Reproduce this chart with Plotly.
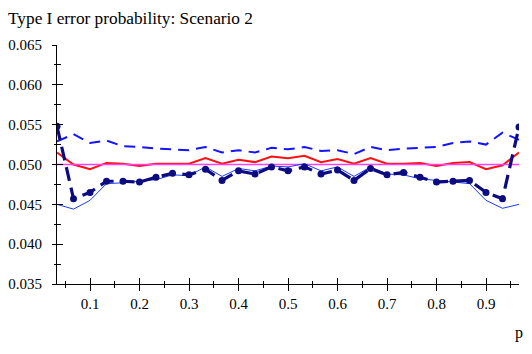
import plotly.graph_objects as go

# ── data ──────────────────────────────────────────────────────
p = [k / 30 for k in range(1, 30)]

# upper dashed blue
upper_dash = [0.0529, 0.0538, 0.0527, 0.0530, 0.0523, 0.0522, 0.0520, 0.0519, 0.0518,
              0.0522, 0.0515, 0.0518, 0.0515, 0.0521, 0.0519, 0.0522, 0.0517, 0.0518,
              0.0513, 0.0522, 0.0518, 0.0520, 0.0521, 0.0522, 0.0527, 0.0529, 0.0525,
              0.0540, 0.0531]

# red solid
red_line = [0.0515, 0.0500, 0.0494, 0.0502, 0.0501, 0.0498, 0.0501, 0.0501, 0.0501,
            0.0508, 0.0501, 0.0506, 0.0503, 0.0510, 0.0508, 0.0511, 0.0503, 0.0507,
            0.0501, 0.0508, 0.0501, 0.0501, 0.0502, 0.0498, 0.0502, 0.0503, 0.0494,
            0.0499, 0.0515]

# nominal level
nominal = [0.05] * len(p)

# thin blue solid
thin_blue = [0.0450, 0.0444, 0.0455, 0.0476, 0.0477, 0.0479, 0.0481, 0.0487, 0.0486,
             0.0497, 0.0485, 0.0495, 0.0492, 0.0498, 0.0497, 0.0501, 0.0492, 0.0497,
             0.0485, 0.0497, 0.0488, 0.0487, 0.0482, 0.0480, 0.0478, 0.0476, 0.0455,
             0.0445, 0.0450]

# navy dashed with dots
navy_dots = [0.0548, 0.0457, 0.0465, 0.0479, 0.0479, 0.0478, 0.0484, 0.0489, 0.0487,
             0.0494, 0.0480, 0.0492, 0.0488, 0.0497, 0.0492, 0.0497, 0.0488, 0.0493,
             0.0480, 0.0495, 0.0487, 0.0490, 0.0484, 0.0478, 0.0479, 0.0480, 0.0465,
             0.0457, 0.0547]

x_ticks = [0.1, 0.2, 0.3, 0.4, 0.5, 0.6, 0.7, 0.8, 0.9]
y_ticks = [0.035, 0.040, 0.045, 0.050, 0.055, 0.060, 0.065]

XR = [p[0], p[-1]]
YR = [0.035, 0.065]
FONT = 'Liberation Serif, Times New Roman, serif'

fig = go.Figure()

fig.add_trace(go.Scatter(x=p, y=upper_dash, mode='lines',
                         line=dict(color='#1414ff', width=2, dash='11px,7px'),
                         showlegend=False))
fig.add_trace(go.Scatter(x=p, y=red_line, mode='lines',
                         line=dict(color='#ff1010', width=2),
                         showlegend=False))
fig.add_trace(go.Scatter(x=p, y=nominal, mode='lines',
                         line=dict(color='#ff40ff', width=1.5),
                         showlegend=False))
fig.add_trace(go.Scatter(x=p, y=thin_blue, mode='lines',
                         line=dict(color='#1a3cff', width=1),
                         showlegend=False))
fig.add_trace(go.Scatter(x=p, y=navy_dots, mode='lines+markers',
                         line=dict(color='#0c0c80', width=3.2, dash='14px,7px'),
                         marker=dict(color='#0c0c80', size=7),
                         showlegend=False))
# invisible trace so the overlay axes (inner half of the crossing ticks) get drawn
fig.add_trace(go.Scatter(x=[p[0]], y=[0.05], mode='markers', opacity=0,
                         xaxis='x2', yaxis='y2', hoverinfo='skip', showlegend=False))

axis_common = dict(showgrid=False, zeroline=False, showline=True, automargin=False,
                   linecolor='black', linewidth=1, tickcolor='black', tickwidth=1)

# page body has an 8px margin, so the figure is 8px smaller than the window
fig.update_layout(
    template='none',
    width=524, height=346,
    margin=dict(l=49, r=13, t=37, b=70, autoexpand=False),
    paper_bgcolor='white', plot_bgcolor='white',
    font=dict(family=FONT, size=15, color='black'),
    title=dict(text='Type I error probability: Scenario 2',
               font=dict(family=FONT, size=17.3, color='black'),
               xref='container', x=0, xanchor='left',
               yref='container', y=1 - 10 / 346, yanchor='middle'),
    xaxis=dict(range=XR, tickvals=x_ticks, ticktext=[f'{v:.1f}' for v in x_ticks],
               ticks='outside', ticklen=6, ticklabelstandoff=0,
               minor=dict(ticks='outside', ticklen=3, dtick=0.05, tick0=0.05,
                          tickcolor='black', showgrid=False),
               **axis_common),
    yaxis=dict(range=YR, tickvals=y_ticks, ticktext=[f'{v:.3f}' for v in y_ticks],
               ticks='outside', ticklen=4, ticklabelstandoff=7,
               minor=dict(ticks='outside', ticklen=2, dtick=0.0025, tick0=0.035,
                          tickcolor='black', showgrid=False),
               **axis_common),
    xaxis2=dict(range=XR, overlaying='x', anchor='y', side='bottom',
                tickvals=x_ticks, showticklabels=False,
                ticks='inside', ticklen=6,
                minor=dict(ticks='inside', ticklen=3.5, dtick=0.05, tick0=0.05,
                           tickcolor='black', showgrid=False),
                showgrid=False, zeroline=False, showline=False, automargin=False,
                tickcolor='black', tickwidth=1),
    yaxis2=dict(range=YR, overlaying='y', anchor='x', side='left',
                tickvals=y_ticks, showticklabels=False,
                ticks='inside', ticklen=6,
                minor=dict(ticks='inside', ticklen=3.5, dtick=0.0025, tick0=0.035,
                           tickcolor='black', showgrid=False),
                showgrid=False, zeroline=False, showline=False, automargin=False,
                tickcolor='black', tickwidth=1),
    annotations=[dict(text='p', xref='paper', yref='paper', x=1.0, y=-0.205,
                      xanchor='center', yanchor='middle', showarrow=False,
                      font=dict(family=FONT, size=16, color='black'))],
)

fig.write_html("out.html")
